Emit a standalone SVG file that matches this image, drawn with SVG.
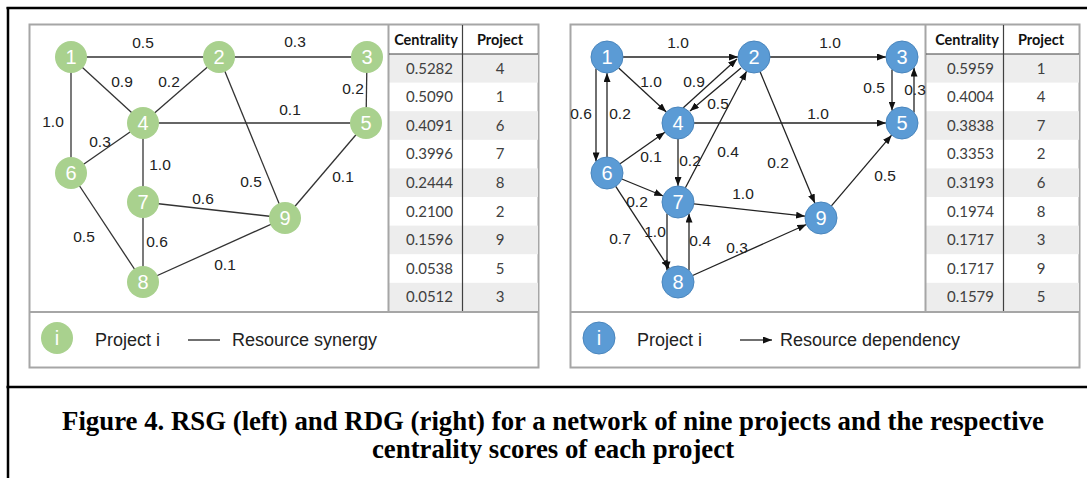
<svg xmlns="http://www.w3.org/2000/svg" width="1087" height="478" viewBox="0 0 1087 478">
<defs>
<style>
.frame{stroke:#000;stroke-width:2.5;fill:none}
.panel{fill:#fff;stroke:#a6a6a6;stroke-width:2}
.sep{stroke:#a6a6a6;stroke-width:2}
.edge{stroke:#333;stroke-width:1.3;fill:none}
.dedge{stroke:#222;stroke-width:1.3;fill:none;marker-end:url(#arr)}
.gnode{fill:#a9d18e}
.bnode{fill:#5b9bd5;stroke:#4a86bd;stroke-width:1}
.nlab{font-family:"Liberation Sans",Arial,sans-serif;font-size:20px;fill:#fff;text-anchor:middle}
.elab{font-family:"Liberation Sans",Arial,sans-serif;font-size:15.5px;fill:#222;text-anchor:middle}
.th{font-family:Lato,"Open Sans",sans-serif;font-size:14.5px;font-weight:bold;fill:#111;text-anchor:middle}
.td{font-family:Lato,"Open Sans",sans-serif;font-size:15px;fill:#404040}
.tdv{text-anchor:end}
.tdp{text-anchor:middle}
.rowg{fill:#ededed}
.tline{stroke:#404040;stroke-width:1.2}
.leg{font-family:"Liberation Sans",Arial,sans-serif;font-size:18px;fill:#222}
.cap{font-family:"Liberation Serif","Times New Roman",serif;font-size:26.8px;font-weight:bold;fill:#000;text-anchor:middle}
</style>
<marker id="arr" viewBox="0 0 9 7" refX="9" refY="3.5" markerWidth="9" markerHeight="7" markerUnits="userSpaceOnUse" orient="auto">
<path d="M0,0 L9,3.5 L0,7 z" fill="#111"/>
</marker>
</defs>
<rect width="1087" height="478" fill="#fff"/>
<g id="frame">
<line class="frame" x1="6.5" y1="8" x2="1087" y2="8"/>
<line class="frame" x1="8" y1="7" x2="8" y2="478"/>
<line class="frame" x1="6.5" y1="387" x2="1087" y2="387"/>
</g>

<g id="left-panel">
<rect class="panel" x="29.5" y="24.5" width="509" height="343"/>
<g id="left-table">
<rect class="rowg" x="389" y="54" width="149" height="28.6"/>
<rect class="rowg" x="389" y="111.2" width="149" height="28.6"/>
<rect class="rowg" x="389" y="168.4" width="149" height="28.6"/>
<rect class="rowg" x="389" y="225.6" width="149" height="28.6"/>
<rect class="rowg" x="389" y="282.8" width="149" height="28.2"/>
<line class="sep" x1="388.5" y1="24" x2="388.5" y2="312"/>
<line class="tline" x1="389" y1="54" x2="538" y2="54"/>
<line class="tline" x1="462.5" y1="25" x2="462.5" y2="311"/>
<text class="th" x="426" y="45">Centrality</text>
<text class="th" x="500" y="45">Project</text>
<g class="td">
<text class="tdv" x="453" y="73.5">0.5282</text><text class="tdp" x="500" y="73.5">4</text>
<text class="tdv" x="453" y="102.1">0.5090</text><text class="tdp" x="500" y="102.1">1</text>
<text class="tdv" x="453" y="130.7">0.4091</text><text class="tdp" x="500" y="130.7">6</text>
<text class="tdv" x="453" y="159.3">0.3996</text><text class="tdp" x="500" y="159.3">7</text>
<text class="tdv" x="453" y="187.9">0.2444</text><text class="tdp" x="500" y="187.9">8</text>
<text class="tdv" x="453" y="216.5">0.2100</text><text class="tdp" x="500" y="216.5">2</text>
<text class="tdv" x="453" y="245.1">0.1596</text><text class="tdp" x="500" y="245.1">9</text>
<text class="tdv" x="453" y="273.7">0.0538</text><text class="tdp" x="500" y="273.7">5</text>
<text class="tdv" x="453" y="302.3">0.0512</text><text class="tdp" x="500" y="302.3">3</text>
</g>
</g>
<line class="sep" x1="29" y1="312" x2="539" y2="312"/>
<g id="left-legend">
<circle class="gnode" cx="57" cy="338" r="16"/>
<text class="nlab" x="57" y="345">i</text>
<text class="leg" x="95" y="346">Project i</text>
<line x1="188" y1="340" x2="220" y2="340" stroke="#222" stroke-width="1.3"/>
<text class="leg" x="232" y="346">Resource synergy</text>
</g>
</g>

<g id="rsg-edges">
<line class="edge" x1="71" y1="57" x2="219" y2="57"/>
<line class="edge" x1="219" y1="57" x2="367" y2="57"/>
<line class="edge" x1="71" y1="57" x2="143" y2="123"/>
<line class="edge" x1="219" y1="57" x2="143" y2="123"/>
<line class="edge" x1="367" y1="57" x2="366" y2="123"/>
<line class="edge" x1="143" y1="123" x2="366" y2="123"/>
<line class="edge" x1="71" y1="57" x2="71" y2="173"/>
<line class="edge" x1="143" y1="123" x2="71" y2="173"/>
<line class="edge" x1="143" y1="123" x2="143" y2="202"/>
<line class="edge" x1="219" y1="57" x2="285" y2="218"/>
<line class="edge" x1="366" y1="123" x2="285" y2="218"/>
<line class="edge" x1="143" y1="202" x2="285" y2="218"/>
<line class="edge" x1="71" y1="173" x2="143" y2="282"/>
<line class="edge" x1="143" y1="202" x2="143" y2="282"/>
<line class="edge" x1="143" y1="282" x2="285" y2="218"/>
</g>
<g id="rsg-edge-labels">
<text class="elab" x="143" y="48">0.5</text>
<text class="elab" x="295" y="47">0.3</text>
<text class="elab" x="122" y="87">0.9</text>
<text class="elab" x="169" y="87">0.2</text>
<text class="elab" x="353" y="94">0.2</text>
<text class="elab" x="290" y="115">0.1</text>
<text class="elab" x="53" y="127">1.0</text>
<text class="elab" x="100" y="147">0.3</text>
<text class="elab" x="160" y="170">1.0</text>
<text class="elab" x="251" y="187">0.5</text>
<text class="elab" x="343" y="182">0.1</text>
<text class="elab" x="203" y="204">0.6</text>
<text class="elab" x="84" y="242">0.5</text>
<text class="elab" x="157" y="247">0.6</text>
<text class="elab" x="225" y="270">0.1</text>
</g>
<g id="rsg-n1"><circle class="gnode" cx="71" cy="57" r="16"/><text class="nlab" x="71" y="64">1</text></g>
<g id="rsg-n2"><circle class="gnode" cx="219" cy="57" r="16"/><text class="nlab" x="219" y="64">2</text></g>
<g id="rsg-n3"><circle class="gnode" cx="367" cy="57" r="16"/><text class="nlab" x="367" y="64">3</text></g>
<g id="rsg-n4"><circle class="gnode" cx="143" cy="123" r="16"/><text class="nlab" x="143" y="130">4</text></g>
<g id="rsg-n5"><circle class="gnode" cx="366" cy="123" r="16"/><text class="nlab" x="366" y="130">5</text></g>
<g id="rsg-n6"><circle class="gnode" cx="71" cy="173" r="16"/><text class="nlab" x="71" y="180">6</text></g>
<g id="rsg-n7"><circle class="gnode" cx="143" cy="202" r="16"/><text class="nlab" x="143" y="209">7</text></g>
<g id="rsg-n8"><circle class="gnode" cx="143" cy="282" r="16"/><text class="nlab" x="143" y="289">8</text></g>
<g id="rsg-n9"><circle class="gnode" cx="285" cy="218" r="16"/><text class="nlab" x="285" y="225">9</text></g>

<g id="right-panel">
<rect class="panel" x="570.5" y="24.5" width="509" height="343"/>
<g id="right-table">
<rect class="rowg" x="926" y="54" width="153" height="28.6"/>
<rect class="rowg" x="926" y="111.2" width="153" height="28.6"/>
<rect class="rowg" x="926" y="168.4" width="153" height="28.6"/>
<rect class="rowg" x="926" y="225.6" width="153" height="28.6"/>
<rect class="rowg" x="926" y="282.8" width="153" height="28.2"/>
<line class="sep" x1="925.5" y1="24" x2="925.5" y2="312"/>
<line class="tline" x1="926" y1="54" x2="1079" y2="54"/>
<line class="tline" x1="1003.5" y1="25" x2="1003.5" y2="311"/>
<text class="th" x="967" y="45">Centrality</text>
<text class="th" x="1041" y="45">Project</text>
<g class="td">
<text class="tdv" x="994" y="73.5">0.5959</text><text class="tdp" x="1041" y="73.5">1</text>
<text class="tdv" x="994" y="102.1">0.4004</text><text class="tdp" x="1041" y="102.1">4</text>
<text class="tdv" x="994" y="130.7">0.3838</text><text class="tdp" x="1041" y="130.7">7</text>
<text class="tdv" x="994" y="159.3">0.3353</text><text class="tdp" x="1041" y="159.3">2</text>
<text class="tdv" x="994" y="187.9">0.3193</text><text class="tdp" x="1041" y="187.9">6</text>
<text class="tdv" x="994" y="216.5">0.1974</text><text class="tdp" x="1041" y="216.5">8</text>
<text class="tdv" x="994" y="245.1">0.1717</text><text class="tdp" x="1041" y="245.1">3</text>
<text class="tdv" x="994" y="273.7">0.1717</text><text class="tdp" x="1041" y="273.7">9</text>
<text class="tdv" x="994" y="302.3">0.1579</text><text class="tdp" x="1041" y="302.3">5</text>
</g>
</g>
<line class="sep" x1="570" y1="312" x2="1080" y2="312"/>
<g id="right-legend">
<circle class="bnode" cx="599" cy="338" r="16"/>
<text class="nlab" x="599" y="345">i</text>
<text class="leg" x="637" y="346">Project i</text>
<line x1="740" y1="340" x2="772" y2="340" stroke="#222" stroke-width="1.3" marker-end="url(#arr)"/>
<text class="leg" x="780" y="346">Resource dependency</text>
</g>
</g>

<g id="rdg-edges">
<line class="dedge" x1="623" y1="57" x2="738" y2="57"/>
<line class="dedge" x1="770" y1="57" x2="886" y2="57"/>
<line class="dedge" x1="618.7" y1="67.9" x2="666.3" y2="112.1"/>
<line class="dedge" x1="683" y1="108" x2="737" y2="59"/>
<line class="dedge" x1="741" y1="68" x2="690" y2="111"/>
<line class="dedge" x1="596" y1="68.6" x2="596" y2="161.4"/>
<line class="dedge" x1="607" y1="157" x2="607" y2="73"/>
<line class="dedge" x1="892" y1="69.5" x2="892" y2="110.5"/>
<line class="dedge" x1="914" y1="112.4" x2="914" y2="67.6"/>
<line class="dedge" x1="694" y1="123" x2="886" y2="123"/>
<line class="dedge" x1="620.1" y1="163.8" x2="664.9" y2="132.2"/>
<line class="dedge" x1="678" y1="139" x2="678" y2="186"/>
<line class="dedge" x1="685.4" y1="187.8" x2="746.6" y2="71.2"/>
<line class="dedge" x1="760.1" y1="71.8" x2="814.9" y2="203.2"/>
<line class="dedge" x1="831.4" y1="205.8" x2="891.6" y2="135.2"/>
<line class="dedge" x1="621.8" y1="179" x2="663.2" y2="196"/>
<line class="dedge" x1="693.9" y1="203.8" x2="805.1" y2="216.2"/>
<line class="dedge" x1="615.7" y1="186.4" x2="669.3" y2="268.6"/>
<line class="dedge" x1="667" y1="213.6" x2="667" y2="270.4"/>
<line class="dedge" x1="689" y1="270.4" x2="689" y2="213.6"/>
<line class="dedge" x1="692.6" y1="275.5" x2="806.4" y2="224.5"/>
</g>
<g id="rdg-edge-labels">
<text class="elab" x="678" y="48">1.0</text>
<text class="elab" x="830" y="48">1.0</text>
<text class="elab" x="651" y="87">1.0</text>
<text class="elab" x="694" y="87">0.9</text>
<text class="elab" x="718" y="109">0.5</text>
<text class="elab" x="581" y="119">0.6</text>
<text class="elab" x="620" y="119">0.2</text>
<text class="elab" x="874" y="93">0.5</text>
<text class="elab" x="915" y="95">0.3</text>
<text class="elab" x="818" y="119">1.0</text>
<text class="elab" x="651" y="162">0.1</text>
<text class="elab" x="690" y="166">0.2</text>
<text class="elab" x="728" y="157">0.4</text>
<text class="elab" x="778" y="168">0.2</text>
<text class="elab" x="885" y="181">0.5</text>
<text class="elab" x="637" y="207">0.2</text>
<text class="elab" x="743" y="199">1.0</text>
<text class="elab" x="620" y="244">0.7</text>
<text class="elab" x="655" y="237">1.0</text>
<text class="elab" x="700" y="246">0.4</text>
<text class="elab" x="737" y="253">0.3</text>
</g>
<g id="rdg-n1"><circle class="bnode" cx="607" cy="57" r="16"/><text class="nlab" x="607" y="64">1</text></g>
<g id="rdg-n2"><circle class="bnode" cx="754" cy="57" r="16"/><text class="nlab" x="754" y="64">2</text></g>
<g id="rdg-n3"><circle class="bnode" cx="902" cy="57" r="16"/><text class="nlab" x="902" y="64">3</text></g>
<g id="rdg-n4"><circle class="bnode" cx="678" cy="123" r="16"/><text class="nlab" x="678" y="130">4</text></g>
<g id="rdg-n5"><circle class="bnode" cx="902" cy="123" r="16"/><text class="nlab" x="902" y="130">5</text></g>
<g id="rdg-n6"><circle class="bnode" cx="607" cy="173" r="16"/><text class="nlab" x="607" y="180">6</text></g>
<g id="rdg-n7"><circle class="bnode" cx="678" cy="202" r="16"/><text class="nlab" x="678" y="209">7</text></g>
<g id="rdg-n8"><circle class="bnode" cx="678" cy="282" r="16"/><text class="nlab" x="678" y="289">8</text></g>
<g id="rdg-n9"><circle class="bnode" cx="821" cy="218" r="16"/><text class="nlab" x="821" y="225">9</text></g>

<g id="caption">
<text class="cap" x="553" y="430">Figure 4. RSG (left) and RDG (right) for a network of nine projects and the respective</text>
<text class="cap" x="553" y="458">centrality scores of each project</text>
</g>
</svg>
